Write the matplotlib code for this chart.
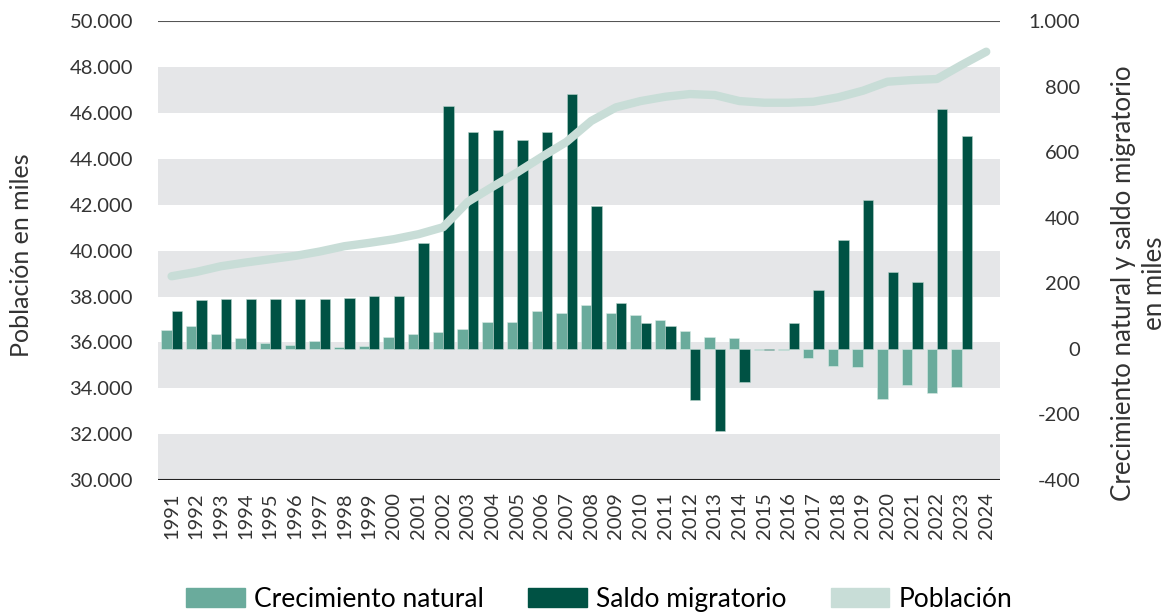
import matplotlib
matplotlib.use('Agg')
import matplotlib.pyplot as plt
from matplotlib.patches import Patch
from matplotlib import font_manager
import numpy as np

# Datos
anios = list(range(1991, 2025))
crecimiento_natural = [57, 69, 46, 32, 18, 13, 23, 5, 9, 37,
                       46, 51, 61, 83, 83, 116, 110, 134, 110, 105,
                       88, 55, 37, 32, -3, -3, -27, -51, -56, -152,
                       -111, -134, -115]
saldo_migratorio = [116, 148, 152, 152, 152, 152, 152, 157, 161, 161,
                    323, 743, 664, 670, 637, 664, 780, 438, 139, 78,
                    69, -157, -249, -101, -3, 78, 180, 332, 456, 235,
                    203, 733, 651]
poblacion = [38886, 39074, 39323, 39485, 39629, 39773, 39965, 40197, 40341, 40502,
             40720, 41026, 42131, 42786, 43415, 44096, 44751, 45660, 46253, 46528,
             46716, 46834, 46790, 46528, 46455, 46455, 46498, 46690, 46978, 47371,
             47445, 47489, 48100, 48681]

izq_ticks = list(range(30000, 50001, 2000))
der_ticks = list(range(-400, 1001, 200))

c_natural = '#6aab9c'
c_saldo = '#005244'
c_pobl = '#c8ddd7'
c_banda = '#e5e6e8'
c_texto = '#333333'

disponibles = {f.name for f in font_manager.fontManager.ttflist}
fuente = 'Lato' if 'Lato' in disponibles else 'DejaVu Sans'
plt.rcParams['font.family'] = [fuente, 'DejaVu Sans']

fig = plt.figure(figsize=(11.66, 6.13), dpi=100)
ax = fig.add_axes([0.1355, 0.217, 0.722, 0.748])
ax2 = ax.twinx()

x = np.arange(len(anios))
xn = np.arange(len(crecimiento_natural))

# bandas grises alternas
for i, v in enumerate(izq_ticks[:-1]):
    if i % 2 == 0:
        ax.axhspan(v, v + 2000, color=c_banda, lw=0, zorder=0)
ax.axhline(50000, color='#555555', lw=1.5, zorder=1)
ax.axhline(30000, color='#222222', lw=1.5, zorder=1)

ax.set_ylim(30000, 50000)
ax2.set_ylim(-400, 1000)
ax.set_xlim(-0.55, len(anios) - 0.45)

ancho = 0.42
ax2.bar(xn - ancho / 2, crecimiento_natural, width=ancho, color=c_natural,
        edgecolor='#d9ebe6', linewidth=0.4, zorder=2)
ax2.bar(xn + ancho / 2, saldo_migratorio, width=ancho, color=c_saldo,
        edgecolor='#b8d4cc', linewidth=0.4, zorder=2)

# línea de población sobre las barras
ax3 = ax.twinx()
ax3.set_ylim(30000, 50000)
ax3.plot(x, poblacion, color=c_pobl, lw=6, solid_capstyle='round', zorder=3)
ax3.axis('off')

for a in (ax, ax2):
    for s in a.spines.values():
        s.set_visible(False)

ax.set_yticks(izq_ticks)
ax.set_yticklabels([f'{v:,}'.replace(',', '.') for v in izq_ticks])
ax2.set_yticks(der_ticks)
ax2.set_yticklabels([f'{v:,}'.replace(',', '.') for v in der_ticks], ha='right')
ax.set_xticks(x)
ax.set_xticklabels([str(a) for a in anios], rotation=90)

ax.tick_params(axis='y', length=0, pad=18, labelsize=14.5, labelcolor=c_texto)
ax2.tick_params(axis='y', length=0, pad=58, labelsize=14.5, labelcolor=c_texto)
ax.tick_params(axis='x', length=0, pad=9, labelsize=14.5, labelcolor=c_texto)

# títulos de los ejes
fig.text(22 / 1166, 1 - 255 / 613, 'Población en miles', rotation=90,
         ha='center', va='center', fontsize=18, color=c_texto)
fig.text(1139 / 1166, 1 - 283 / 613, 'Crecimiento natural y saldo migratorio\nen miles',
         rotation=90, ha='center', va='center', multialignment='center',
         fontsize=18.6, color=c_texto, linespacing=1.35)

handles = [Patch(color=c_natural), Patch(color=c_saldo), Patch(color=c_pobl)]
etiquetas = ['Crecimiento natural', 'Saldo migratorio', 'Población']
fig.legend(handles, etiquetas, loc='center', bbox_to_anchor=(0.514, 0.022),
           ncol=3, frameon=False, handlelength=2.2, handleheight=0.75,
           columnspacing=1.7, handletextpad=0.35,
           prop={'size': 19})

fig.savefig('out.png', dpi=100)
